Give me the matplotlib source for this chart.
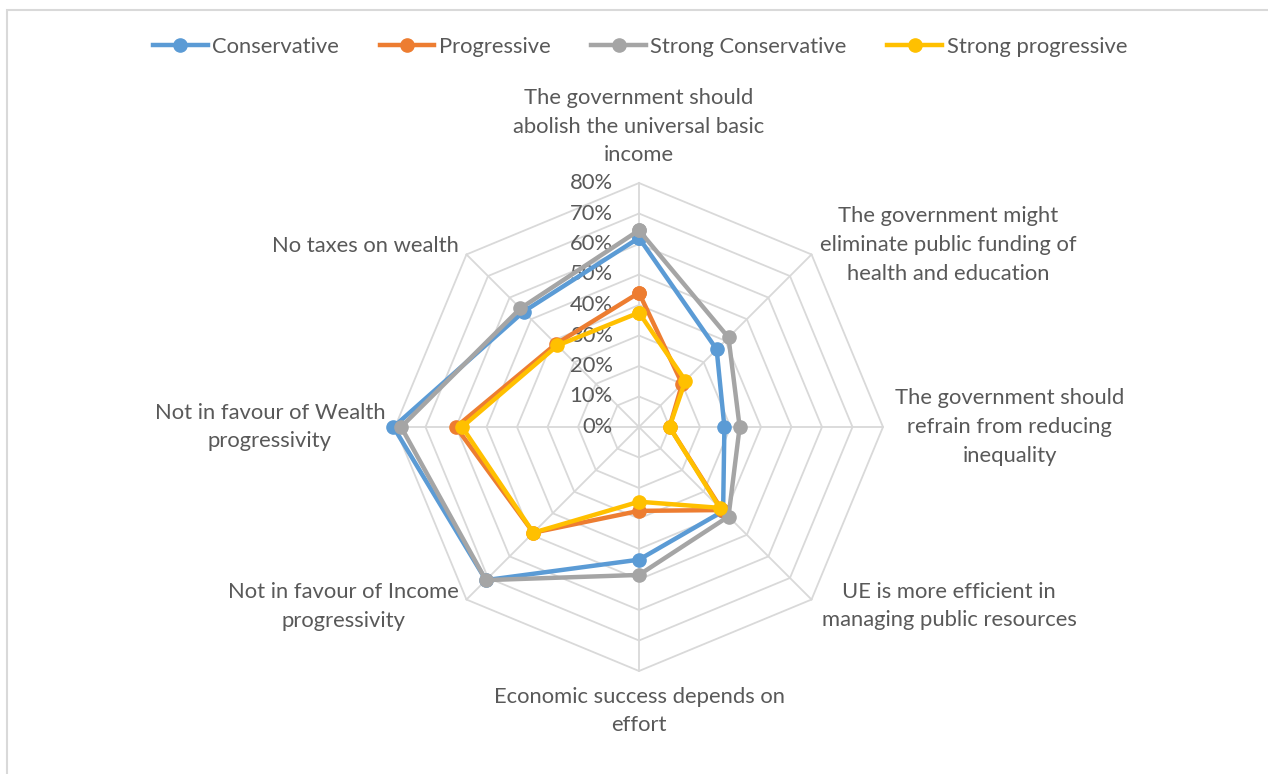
import numpy as np
import matplotlib
matplotlib.use("Agg")
import matplotlib.pyplot as plt
from matplotlib.patches import Rectangle

plt.rcParams['font.family'] = ['Lato', 'DejaVu Sans']

categories = [
    "The government should\nabolish the universal basic\nincome",
    "The government might\neliminate public funding of\nhealth and education",
    "The government should\nrefrain from reducing\ninequality",
    "UE is more efficient in\nmanaging public resources",
    "Economic success depends on\neffort",
    "Not in favour of Income\nprogressivity",
    "Not in favour of Wealth\nprogressivity",
    "No taxes on wealth",
]

conservative = [0.62, 0.36, 0.28, 0.39, 0.435, 0.71, 0.805, 0.535]
progressive = [0.44, 0.20, 0.10, 0.385, 0.275, 0.49, 0.60, 0.385]
strong_conservative = [0.645, 0.415, 0.33, 0.415, 0.485, 0.71, 0.78, 0.55]
strong_progressive = [0.375, 0.215, 0.10, 0.375, 0.245, 0.49, 0.58, 0.378]

series = [
    ("Conservative", conservative, "#5B9BD5"),
    ("Progressive", progressive, "#ED7D31"),
    ("Strong Conservative", strong_conservative, "#A5A5A5"),
    ("Strong progressive", strong_progressive, "#FFC000"),
]

ring_values = [0.0, 0.1, 0.2, 0.3, 0.4, 0.5, 0.6, 0.7, 0.8]

# label anchor for each category: (angle in degrees clockwise from top, radius)
label_pos = [(0, 0.985), (59.5, 1.176), (90, 1.216), (120, 1.174),
             (180, 0.931), (238.8, 1.134), (270, 1.21), (303.5, 1.076)]

text_color = "#595959"
grid_color = "#D9D9D9"
fs = 15.8

fig = plt.figure(figsize=(12.68, 7.74), dpi=100)
fig.patches.append(Rectangle((7 / 1268, -0.1), 1.2, (774 - 10) / 774 + 0.1,
                             transform=fig.transFigure, fill=False,
                             edgecolor="#D9D9D9", linewidth=1.5))

ax = fig.add_axes([(639 - 244) / 1268, (347 - 244) / 774, 488 / 1268, 488 / 774],
                  projection="polar")
ax.set_theta_offset(np.pi / 2)
ax.set_theta_direction(-1)
ax.set_ylim(0, 0.8)
ax.axis("off")

n = len(categories)
angles = np.linspace(0, 2 * np.pi, n, endpoint=False)
closed = np.concatenate([angles, angles[:1]])

# octagonal web
for v in ring_values[1:]:
    ax.plot(closed, [v] * (n + 1), color=grid_color, lw=1.3, zorder=1, clip_on=False)
for a in angles:
    ax.plot([a, a], [0, 0.8], color=grid_color, lw=1.3, zorder=1, clip_on=False)

for v in ring_values:
    ax.annotate(f"{v:.0%}", xy=(0, v), xytext=(-19, 0), textcoords="offset points",
                ha="right", va="center", fontsize=fs, color=text_color)

for name, vals, col in series:
    ax.plot(closed, vals + vals[:1], color=col, lw=3.2, marker="o", ms=9.5,
            label=name, zorder=3, clip_on=False)

for cat, (deg, r) in zip(categories, label_pos):
    ax.text(np.deg2rad(deg), r, cat, ha="center", va="center", fontsize=fs,
            color=text_color, linespacing=1.55)

fig.legend(loc="center", bbox_to_anchor=(0.5 + 6 / 1268, 1 - 47 / 774), ncol=4,
           frameon=False, fontsize=fs, labelcolor=text_color, handlelength=2.5,
           columnspacing=1.85, handletextpad=0.2)

fig.savefig("out.png", dpi=100, facecolor="white")
